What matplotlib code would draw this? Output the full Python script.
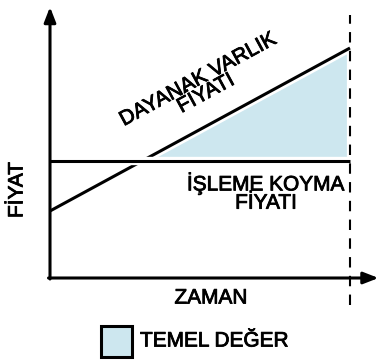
import numpy as np
import matplotlib.pyplot as plt
import matplotlib.patheffects as pe

# veriler (soyut birimler)
zaman = [0, 10]
dayanak = [6.7, 23.0]
kullanim = 11.7
vade = 10
x_max, y_max = 10.9, 27.0
renk_dolgu = '#cde7ef'

plt.rcParams['font.family'] = ['Liberation Sans', 'DejaVu Sans']

fig = plt.figure(figsize=(3.77, 3.61), dpi=100)
ax = fig.add_axes([50 / 377, 1 - 278 / 361, 327 / 377, 270 / 361])
ax.set_xlim(0, x_max)
ax.set_ylim(0, y_max)
ax.axis('off')

# temel değer alanı
t = np.linspace(zaman[0], vade - 0.12, 200)
s = np.interp(t, zaman, dayanak)
ax.fill_between(t, kullanim, s, where=s > kullanim, color=renk_dolgu, lw=0, interpolate=True)

beyaz = [pe.Stroke(linewidth=6, foreground='white'), pe.Normal()]
ax.plot(zaman, dayanak, color='black', lw=2.2, path_effects=beyaz, solid_capstyle='butt')
ax.plot([0, vade], [kullanim, kullanim], color='black', lw=2.2, path_effects=beyaz, solid_capstyle='butt')
ax.plot([vade, vade], [-2.7, 26.3], color='black', lw=1.5, ls=(0, (5, 4)), clip_on=False)

# eksen okları
ok = dict(arrowstyle='-|>,head_width=0.35,head_length=0.9', lw=2.2, color='black', shrinkA=0, shrinkB=0)
ax.annotate('', xy=(0, y_max + 0.1), xytext=(0, -0.1), arrowprops=ok, annotation_clip=False)
ax.annotate('', xy=(x_max + 0.05, 0), xytext=(-0.05, 0), arrowprops=ok, annotation_clip=False)

# yazılar
kalin = [pe.withStroke(linewidth=0.6, foreground='black')]
yazi = dict(fontsize=15, path_effects=kalin)
ax.text(-1.1, 8.8, 'FİYAT', rotation=90, ha='center', va='center', **yazi)
ax.text(5.37, -2.0, 'ZAMAN', ha='center', va='center', **yazi)
ax.text(5.07, 19.15, 'DAYANAK VARLIK\nFİYATI', rotation=28.5, ha='center', va='center',
        linespacing=0.8, rotation_mode='anchor', **yazi)
ax.text(7.2, 8.5, 'İŞLEME KOYMA\nFİYATI', ha='center', va='center', linespacing=0.95, **yazi)

# açıklama kutusu
fig.patches.append(plt.Rectangle((101 / 377, 1 - 357 / 361), 31 / 377, 31 / 361,
                                 transform=fig.transFigure, facecolor=renk_dolgu,
                                 edgecolor='black', lw=2.2))
fig.text(140 / 377, 1 - 341 / 361, 'TEMEL DEĞER', ha='left', va='center', **yazi)

fig.savefig('out.png', dpi=100)
